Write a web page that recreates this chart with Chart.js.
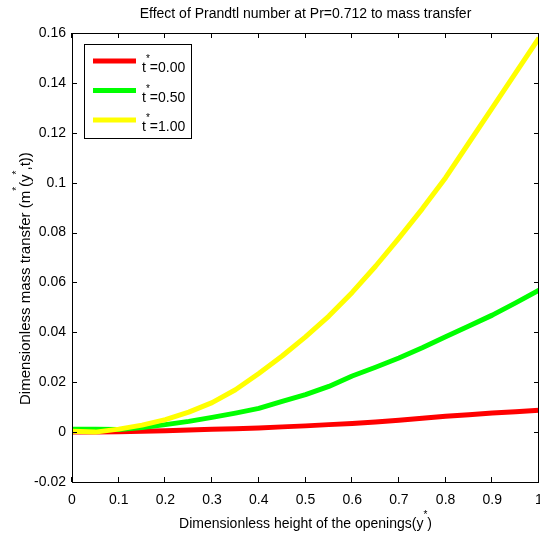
<!DOCTYPE html>
<html>
<head>
<meta charset="utf-8">
<script src="https://cdn.jsdelivr.net/npm/chart.js@4.4.1/dist/chart.umd.min.js"></script>
<style>
html,body{margin:0;padding:0;background:#ffffff;}
#wrap{width:540px;height:537px;position:relative;}
</style>
</head>
<body>
<div id="wrap"><canvas id="c" width="540" height="537"></canvas></div>
<script>
// ---- data ----
const xValues = [0,0.05,0.1,0.15,0.2,0.25,0.3,0.35,0.4,0.45,0.5,0.55,0.6,0.65,0.7,0.75,0.8,0.85,0.9,0.95,1.0];
const massT000 = [0,0,0.0001,0.0003,0.0005,0.0008,0.0011,0.0013,0.0016,0.0021,0.0025,0.0030,0.0035,0.0041,0.0048,0.0056,0.0064,0.0070,0.0077,0.0082,0.0088];
const massT050 = [0.0011,0.0011,0.0010,0.0018,0.0030,0.0043,0.0059,0.0076,0.0095,0.0123,0.0150,0.0183,0.0225,0.0260,0.0297,0.0338,0.0382,0.0425,0.0469,0.0518,0.0569];
const massT100 = [0.0003,0.0000,0.0012,0.0028,0.0050,0.0080,0.0118,0.0170,0.0235,0.0305,0.0382,0.0465,0.0560,0.0665,0.0778,0.0895,0.1020,0.1160,0.1300,0.1440,0.1580];
const seriesLabels = ['t*=0.00','t*=0.50','t*=1.00'];
const seriesColors = ['#ff0000','#00ff00','#ffff00'];
const xTickValues = [0,0.1,0.2,0.3,0.4,0.5,0.6,0.7,0.8,0.9,1];
const xTickLabels = ['0','0.1','0.2','0.3','0.4','0.5','0.6','0.7','0.8','0.9','1'];
const yTickValues = [-0.02,0,0.02,0.04,0.06,0.08,0.1,0.12,0.14,0.16];
const yTickLabels = ['-0.02','0','0.02','0.04','0.06','0.08','0.1','0.12','0.14','0.16'];
const titleText = 'Effect of Prandtl number at Pr=0.712 to mass transfer';
const xTitleParts = [['Dimensionless height of the openings(y',0],['*',1],[')',0]];
const yTitleParts = [['Dimensionless mass transfer (m',0],['*',1],['(y',0],['*',1],[',t))',0]];

const FONT = '"Liberation Sans", Arial, Helvetica, sans-serif';

function pts(ys){ return xValues.map((x,i)=>({x:x, y:ys[i]})); }

function drawParts(ctx, parts, x, y, align, size){
  const nf = size + 'px ' + FONT, sf = '10px ' + FONT;
  let w = 0;
  parts.forEach(p=>{ ctx.font = p[1] ? sf : nf; w += ctx.measureText(p[0]).width; });
  let cx = align === 'center' ? x - w/2 : x;
  ctx.textAlign = 'left';
  ctx.textBaseline = 'alphabetic';
  parts.forEach(p=>{
    ctx.font = p[1] ? sf : nf;
    ctx.fillText(p[0], cx, p[1] ? y - 10 : y);
    cx += ctx.measureText(p[0]).width;
  });
}

const decorPlugin = {
  id: 'decor',
  afterDraw(chart){
    const ctx = chart.ctx;
    const a = chart.chartArea;
    const xs = chart.scales.x, ys = chart.scales.y;
    ctx.save();
    // frame
    ctx.strokeStyle = '#000';
    ctx.lineWidth = 1;
    ctx.strokeRect(a.left + 0.5, a.top + 0.5, a.right - a.left - 1, a.bottom - a.top);
    // inward ticks on all sides
    ctx.beginPath();
    xTickValues.forEach(v=>{
      const px = Math.round(xs.getPixelForValue(v)) - 0.5;
      ctx.moveTo(px, a.bottom); ctx.lineTo(px, a.bottom - 5);
      ctx.moveTo(px, a.top); ctx.lineTo(px, a.top + 5);
    });
    yTickValues.forEach(v=>{
      const py = Math.round(ys.getPixelForValue(v)) + 0.5;
      ctx.moveTo(a.left, py); ctx.lineTo(a.left + 5, py);
      ctx.moveTo(a.right, py); ctx.lineTo(a.right - 5, py);
    });
    ctx.stroke();

    // legend
    const lx = a.left + 12, ly = a.top + 11;
    ctx.fillStyle = '#fff';
    ctx.fillRect(lx + 0.5, ly + 0.5, 107, 94);
    ctx.strokeRect(lx + 0.5, ly + 0.5, 107, 94);
    ctx.lineWidth = 5;
    seriesLabels.forEach((lab, i)=>{
      const yy = ly + 17 + i * 29.5;
      ctx.strokeStyle = seriesColors[i];
      ctx.beginPath();
      ctx.moveTo(lx + 9, yy); ctx.lineTo(lx + 52, yy);
      ctx.stroke();
      const s = lab.split('*');
      ctx.fillStyle = '#000';
      drawParts(ctx, [[s[0],0],['*',1],[s[1],0]], lx + 58, yy + 11, 'left', 14);
    });

    // title and axis labels
    ctx.fillStyle = '#000';
    ctx.font = '14px ' + FONT;
    ctx.textAlign = 'center';
    ctx.textBaseline = 'alphabetic';
    ctx.fillText(titleText, (a.left + a.right) / 2, 18);
    drawParts(ctx, xTitleParts, (a.left + a.right) / 2, 528, 'center', 14);
    ctx.save();
    ctx.translate(30, 405);
    ctx.rotate(-Math.PI / 2);
    drawParts(ctx, yTitleParts, 0, 0, 'left', 15);
    ctx.restore();
    ctx.restore();
  }
};

const tickFont = {family: FONT, size: 14};

new Chart(document.getElementById('c'), {
  type: 'line',
  data: {
    datasets: [
      {label: seriesLabels[0], data: pts(massT000), borderColor: seriesColors[0], order: 2},
      {label: seriesLabels[1], data: pts(massT050), borderColor: seriesColors[1], order: 1},
      {label: seriesLabels[2], data: pts(massT100), borderColor: seriesColors[2], order: 0}
    ].map(d => Object.assign(d, {borderWidth: 5, pointRadius: 0, tension: 0, fill: false, borderJoinStyle: 'round'}))
  },
  options: {
    responsive: false,
    animation: false,
    devicePixelRatio: 1,
    layout: {autoPadding: false, padding: {left: 0, right: 1, top: 33, bottom: 0}},
    plugins: {legend: {display: false}, title: {display: false}, tooltip: {enabled: false}},
    scales: {
      x: {
        type: 'linear', min: 0, max: 1,
        grid: {display: false, drawTicks: false},
        border: {display: false},
        ticks: {font: tickFont, color: '#000', padding: 10, maxRotation: 0, autoSkip: false,
                callback: (v, i) => xTickLabels[i]},
        afterBuildTicks: s => { s.ticks = xTickValues.map(v => ({value: v})); },
        afterFit: s => { s.height = 55; s.paddingLeft = 0; s.paddingRight = 0; }
      },
      y: {
        type: 'linear', min: -0.02, max: 0.16,
        grid: {display: false, drawTicks: false},
        border: {display: false},
        ticks: {font: tickFont, color: '#000', padding: 6, autoSkip: false,
                callback: (v, i) => yTickLabels[i]},
        afterBuildTicks: s => { s.ticks = yTickValues.map(v => ({value: v})); },
        afterFit: s => { s.width = 72; s.paddingTop = 0; s.paddingBottom = 0; }
      }
    }
  },
  plugins: [decorPlugin]
});
</script>
</body>
</html>
